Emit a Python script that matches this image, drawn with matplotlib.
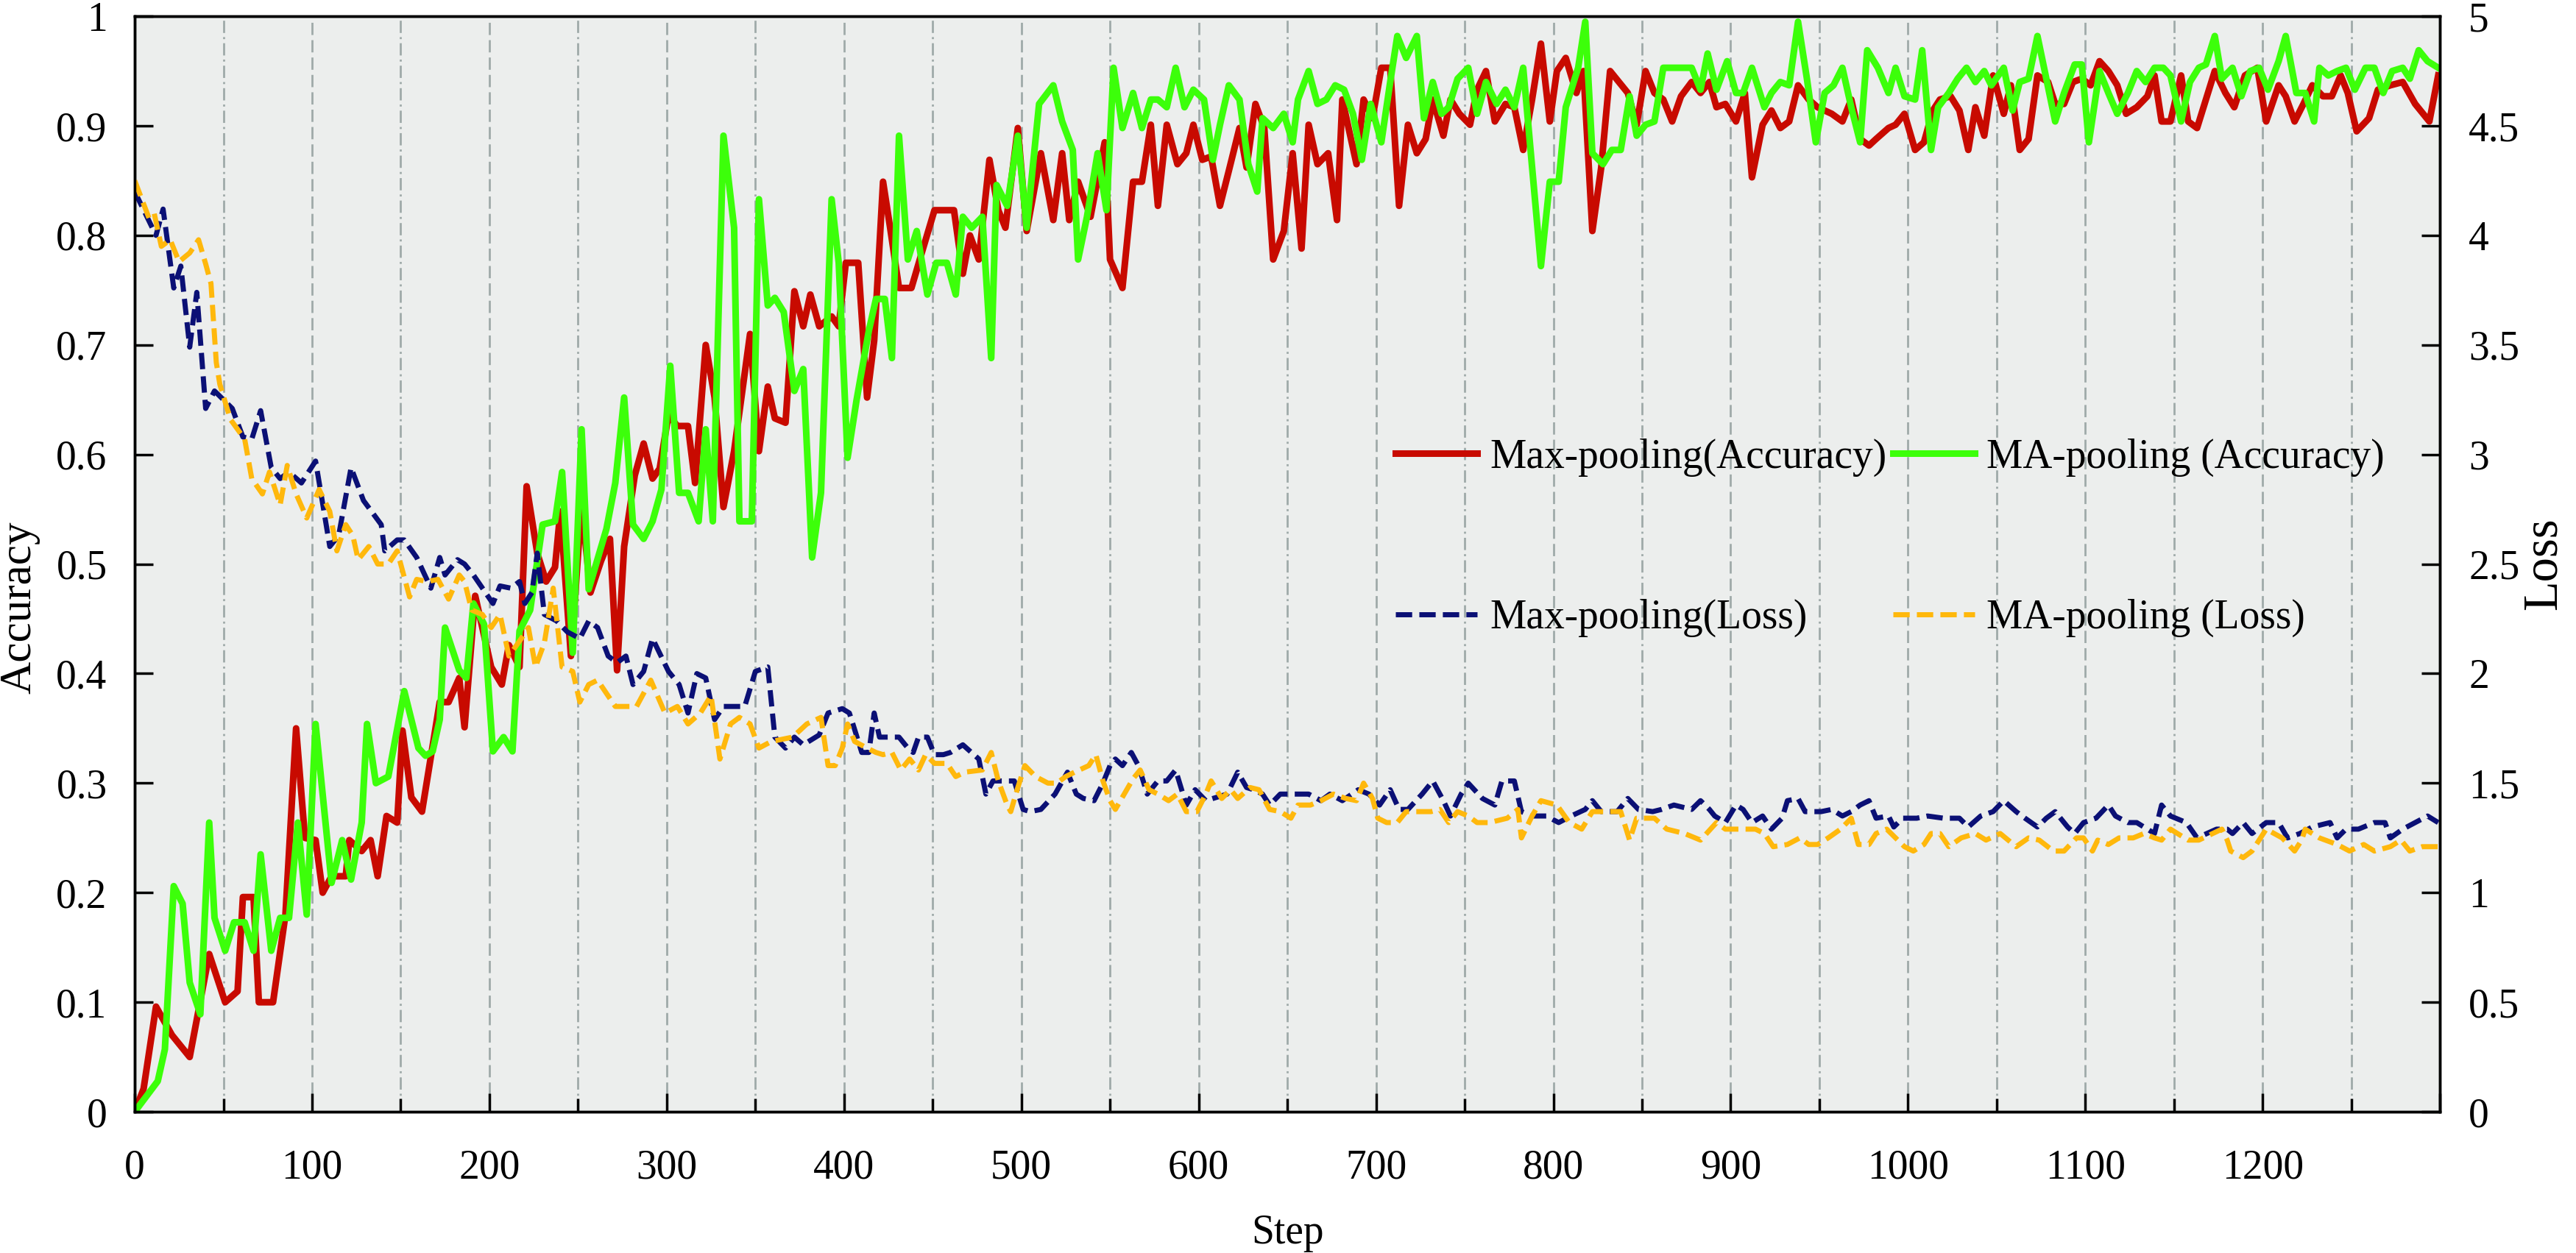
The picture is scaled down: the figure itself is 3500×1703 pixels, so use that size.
import matplotlib
matplotlib.use('Agg')
import matplotlib.pyplot as plt
from matplotlib.ticker import FixedLocator, FuncFormatter

plt.rcParams['font.family'] = ['Liberation Serif', 'DejaVu Serif']

# Max-pooling accuracy (step, value)
max_acc_steps = [0, 5, 12, 21, 31, 42, 51, 58, 61, 67, 70, 78, 85, 91, 96, 102, 106, 111, 119, 121,
                 128, 133, 137, 142, 148, 151, 156, 162, 172, 177, 183, 186, 192, 201, 207, 211, 217, 221, 227, 232,
                 237, 240, 246, 252, 257, 263, 268, 272, 276, 282, 287, 292, 296, 301, 306, 312, 316, 322, 327, 332,
                 338, 347, 352, 357, 361, 367, 372, 377, 381, 386, 393, 397, 401, 408, 413, 417, 422, 426, 431, 438,
                 444, 451, 462, 467, 471, 476, 482, 487, 491, 498, 503, 511, 518, 523, 527, 532, 539, 547, 550, 557,
                 563, 568, 573, 577, 582, 588, 593, 597, 602, 607, 612, 617, 623, 627, 632, 637, 642, 648, 653, 658,
                 662, 667, 673, 678, 681, 689, 693, 698, 703, 708, 713, 718, 723, 728, 732, 738, 742, 747, 753, 757,
                 762, 767, 773, 778, 783, 788, 793, 798, 802, 807, 813, 817, 822, 827, 832, 842, 847, 852, 857, 862,
                 867, 872, 878, 883, 888, 892, 897, 903, 908, 912, 918, 923, 928, 933, 938, 944, 949, 957, 963, 968,
                 973, 978, 982, 989, 993, 998, 1004, 1009, 1014, 1018, 1024, 1029, 1034, 1038, 1043, 1048, 1054, 1058, 1063, 1068,
                 1073, 1079, 1083, 1088, 1093, 1098, 1103, 1108, 1113, 1118, 1123, 1129, 1135, 1139, 1143, 1148, 1154, 1158, 1163, 1168,
                 1173, 1179, 1184, 1190, 1197, 1202, 1209, 1213, 1218, 1223, 1228, 1234, 1239, 1244, 1248, 1253, 1260, 1265, 1272, 1279,
                 1286, 1294, 1299]
max_acc = [0.0, 0.021, 0.096, 0.07, 0.05, 0.144, 0.10, 0.11, 0.196, 0.196, 0.10, 0.10, 0.18, 0.35, 0.25, 0.248, 0.2, 0.215, 0.215, 0.248,
           0.238, 0.248, 0.215, 0.27, 0.264, 0.348, 0.287, 0.274, 0.374, 0.374, 0.396, 0.351, 0.471, 0.406, 0.39, 0.426, 0.406, 0.571, 0.51, 0.484,
           0.497, 0.548, 0.416, 0.555, 0.474, 0.503, 0.523, 0.403, 0.516, 0.581, 0.61, 0.578, 0.587, 0.636, 0.626, 0.626, 0.574, 0.7, 0.652, 0.552,
           0.603, 0.71, 0.603, 0.662, 0.633, 0.629, 0.749, 0.717, 0.746, 0.717, 0.726, 0.717, 0.775, 0.775, 0.652, 0.704, 0.849, 0.807, 0.752, 0.752,
           0.785, 0.823, 0.823, 0.765, 0.8, 0.778, 0.869, 0.823, 0.807, 0.898, 0.804, 0.875, 0.814, 0.875, 0.814, 0.849, 0.817, 0.885, 0.778, 0.752,
           0.849, 0.849, 0.901, 0.827, 0.901, 0.865, 0.875, 0.901, 0.869, 0.872, 0.827, 0.859, 0.898, 0.862, 0.92, 0.898, 0.778, 0.804, 0.875, 0.788,
           0.901, 0.865, 0.875, 0.814, 0.924, 0.865, 0.924, 0.907, 0.953, 0.953, 0.827, 0.901, 0.875, 0.888, 0.924, 0.891, 0.924, 0.911, 0.901, 0.933,
           0.95, 0.904, 0.92, 0.917, 0.878, 0.924, 0.975, 0.904, 0.95, 0.962, 0.93, 0.95, 0.804, 0.862, 0.95, 0.93, 0.901, 0.95, 0.93, 0.924,
           0.904, 0.927, 0.94, 0.93, 0.94, 0.917, 0.92, 0.904, 0.93, 0.853, 0.901, 0.914, 0.898, 0.904, 0.937, 0.924, 0.917, 0.911, 0.904, 0.924,
           0.888, 0.882, 0.888, 0.898, 0.901, 0.911, 0.878, 0.885, 0.914, 0.924, 0.927, 0.914, 0.878, 0.917, 0.891, 0.946, 0.911, 0.937, 0.878, 0.888,
           0.946, 0.94, 0.92, 0.92, 0.94, 0.943, 0.937, 0.959, 0.95, 0.937, 0.911, 0.917, 0.927, 0.946, 0.904, 0.904, 0.946, 0.904, 0.898, 0.924,
           0.95, 0.93, 0.917, 0.946, 0.953, 0.904, 0.937, 0.927, 0.904, 0.92, 0.937, 0.927, 0.927, 0.946, 0.93, 0.895, 0.907, 0.933, 0.937, 0.94,
           0.92, 0.904, 0.946]

# MA-pooling accuracy
ma_acc_steps = [0, 13, 17, 22, 27, 31, 37, 42, 45, 51, 56, 62, 67, 71, 77, 82, 87, 92, 97, 102,
                111, 117, 122, 128, 131, 136, 143, 152, 160, 164, 168, 172, 175, 183, 187, 191, 197, 202, 208, 213,
                217, 223, 230, 237, 241, 247, 252, 256, 266, 271, 276, 281, 287, 292, 297, 302, 307, 312, 318, 322,
                326, 332, 338, 341, 348, 352, 357, 361, 366, 372, 377, 382, 387, 393, 397, 402, 407, 414, 418, 423,
                427, 431, 436, 441, 447, 452, 458, 463, 467, 472, 478, 483, 486, 492, 498, 503, 510, 518, 523, 529,
                532, 537, 543, 548, 552, 557, 563, 568, 573, 577, 582, 587, 592, 597, 603, 608, 612, 617, 623, 628,
                633, 636, 642, 648, 653, 656, 662, 667, 672, 677, 682, 687, 692, 697, 703, 708, 712, 717, 723, 727,
                732, 737, 741, 746, 752, 757, 762, 768, 773, 778, 783, 793, 798, 803, 807, 814, 818, 822, 828, 833,
                838, 843, 847, 852, 857, 862, 868, 874, 878, 883, 887, 892, 898, 903, 907, 912, 919, 923, 928, 933,
                938, 943, 948, 953, 958, 963, 968, 973, 977, 983, 989, 993, 998, 1004, 1008, 1013, 1017, 1023, 1028, 1033,
                1038, 1043, 1047, 1054, 1059, 1063, 1068, 1073, 1078, 1083, 1088, 1094, 1098, 1102, 1108, 1113, 1118, 1124, 1129, 1134,
                1139, 1144, 1148, 1154, 1159, 1164, 1168, 1173, 1177, 1183, 1188, 1193, 1198, 1203, 1209, 1213, 1219, 1224, 1229, 1232,
                1237, 1242, 1247, 1252, 1258, 1263, 1268, 1273, 1279, 1283, 1288, 1293, 1299]
ma_acc = [0.0, 0.028, 0.057, 0.206, 0.19, 0.118, 0.089, 0.264, 0.177, 0.147, 0.173, 0.173, 0.147, 0.235, 0.147, 0.177, 0.177, 0.264, 0.18, 0.354,
          0.209, 0.248, 0.212, 0.264, 0.354, 0.3, 0.306, 0.384, 0.332, 0.325, 0.329, 0.358, 0.442, 0.403, 0.396, 0.464, 0.445, 0.329, 0.342, 0.329,
          0.439, 0.458, 0.536, 0.539, 0.584, 0.419, 0.623, 0.477, 0.532, 0.574, 0.652, 0.536, 0.523, 0.539, 0.568, 0.681, 0.565, 0.565, 0.539, 0.623,
          0.539, 0.891, 0.807, 0.539, 0.539, 0.833, 0.736, 0.743, 0.73, 0.658, 0.678, 0.506, 0.565, 0.833, 0.775, 0.597, 0.649, 0.713, 0.742, 0.742,
          0.688, 0.891, 0.778, 0.804, 0.746, 0.775, 0.775, 0.746, 0.817, 0.807, 0.817, 0.688, 0.846, 0.827, 0.891, 0.807, 0.92, 0.937, 0.904, 0.878,
          0.778, 0.817, 0.875, 0.823, 0.953, 0.898, 0.93, 0.898, 0.924, 0.924, 0.917, 0.953, 0.917, 0.933, 0.924, 0.869, 0.901, 0.937, 0.924, 0.865,
          0.84, 0.907, 0.898, 0.911, 0.885, 0.924, 0.95, 0.92, 0.924, 0.937, 0.933, 0.911, 0.869, 0.92, 0.885, 0.94, 0.982, 0.962, 0.982, 0.907,
          0.94, 0.911, 0.917, 0.943, 0.953, 0.911, 0.94, 0.92, 0.933, 0.917, 0.953, 0.772, 0.849, 0.849, 0.917, 0.953, 0.995, 0.875, 0.865, 0.878,
          0.878, 0.927, 0.891, 0.901, 0.904, 0.953, 0.953, 0.953, 0.953, 0.933, 0.966, 0.933, 0.959, 0.93, 0.93, 0.953, 0.917, 0.93, 0.94, 0.937,
          0.995, 0.943, 0.885, 0.93, 0.937, 0.953, 0.917, 0.885, 0.969, 0.953, 0.93, 0.953, 0.927, 0.924, 0.969, 0.878, 0.917, 0.93, 0.943, 0.953,
          0.94, 0.95, 0.937, 0.953, 0.914, 0.94, 0.943, 0.982, 0.943, 0.904, 0.93, 0.956, 0.956, 0.885, 0.95, 0.93, 0.911, 0.93, 0.95, 0.94,
          0.953, 0.953, 0.946, 0.904, 0.94, 0.953, 0.956, 0.982, 0.943, 0.953, 0.927, 0.95, 0.953, 0.933, 0.959, 0.982, 0.93, 0.93, 0.904, 0.953,
          0.946, 0.95, 0.953, 0.933, 0.953, 0.953, 0.93, 0.95, 0.953, 0.943, 0.969, 0.959, 0.953]

# Max-pooling loss
max_loss_steps = [0, 9, 12, 16, 20, 22, 26, 31, 35, 40, 45, 55, 61, 66, 71, 77, 82, 87, 94, 102,
                  110, 115, 122, 129, 139, 141, 148, 152, 159, 167, 172, 175, 182, 186, 191, 202, 206, 212, 217, 220,
                  224, 227, 231, 238, 244, 251, 256, 261, 267, 272, 277, 281, 287, 292, 301, 307, 312, 317, 322, 327,
                  332, 337, 344, 350, 357, 361, 367, 372, 377, 386, 391, 399, 403, 405, 410, 414, 417, 420, 425, 431,
                  436, 439, 442, 447, 451, 456, 460, 467, 476, 480, 484, 490, 496, 501, 505, 511, 519, 526, 531, 535,
                  541, 546, 550, 553, 557, 562, 566, 571, 577, 582, 587, 593, 598, 604, 608, 616, 622, 627, 631, 636,
                  640, 646, 656, 662, 669, 674, 681, 690, 696, 702, 708, 713, 718, 726, 732, 738, 742, 748, 752, 760,
                  767, 771, 778, 782, 788, 796, 803, 810, 818, 822, 827, 836, 842, 848, 856, 861, 868, 878, 883, 888,
                  891, 897, 903, 907, 912, 918, 923, 929, 932, 938, 942, 951, 957, 963, 968, 973, 978, 982, 989, 992,
                  997, 1005, 1011, 1020, 1029, 1034, 1041, 1048, 1054, 1061, 1066, 1073, 1078, 1083, 1090, 1094, 1099, 1106, 1113, 1117,
                  1124, 1129, 1139, 1143, 1148, 1157, 1163, 1174, 1180, 1183, 1189, 1194, 1202, 1209, 1214, 1221, 1228, 1238, 1242, 1247,
                  1254, 1263, 1269, 1272, 1279, 1286, 1293, 1299]
max_loss = [4.2, 4.05, 4.0, 4.12, 3.88, 3.76, 3.86, 3.49, 3.74, 3.21, 3.29, 3.21, 3.08, 3.07, 3.2, 2.94, 2.89, 2.92, 2.87, 2.97,
            2.58, 2.63, 2.94, 2.79, 2.68, 2.56, 2.61, 2.61, 2.53, 2.39, 2.53, 2.45, 2.52, 2.5, 2.45, 2.32, 2.4, 2.39, 2.42, 2.32,
            2.37, 2.55, 2.27, 2.24, 2.19, 2.16, 2.24, 2.21, 2.08, 2.05, 2.08, 1.95, 2.01, 2.16, 2.01, 1.95, 1.82, 2.0, 1.98, 1.79,
            1.85, 1.85, 1.85, 2.01, 2.03, 1.71, 1.66, 1.71, 1.675, 1.72, 1.82, 1.84, 1.82, 1.77, 1.64, 1.64, 1.82, 1.71, 1.71, 1.71,
            1.66, 1.64, 1.71, 1.71, 1.63, 1.63, 1.64, 1.675, 1.61, 1.45, 1.51, 1.51, 1.51, 1.38, 1.37, 1.38, 1.45, 1.55, 1.45, 1.43,
            1.42, 1.5, 1.58, 1.61, 1.58, 1.64, 1.58, 1.45, 1.51, 1.51, 1.56, 1.4, 1.47, 1.42, 1.43, 1.45, 1.55, 1.48, 1.47, 1.45,
            1.4, 1.45, 1.45, 1.45, 1.42, 1.45, 1.42, 1.47, 1.45, 1.4, 1.47, 1.38, 1.38, 1.45, 1.51, 1.42, 1.35, 1.45, 1.5, 1.43,
            1.4, 1.51, 1.51, 1.37, 1.35, 1.35, 1.32, 1.35, 1.38, 1.42, 1.37, 1.37, 1.43, 1.38, 1.37, 1.38, 1.4, 1.38, 1.42, 1.38,
            1.35, 1.32, 1.4, 1.38, 1.32, 1.35, 1.29, 1.34, 1.42, 1.43, 1.37, 1.37, 1.38, 1.35, 1.37, 1.4, 1.42, 1.34, 1.35, 1.3,
            1.34, 1.34, 1.35, 1.34, 1.34, 1.3, 1.35, 1.37, 1.42, 1.37, 1.34, 1.3, 1.34, 1.37, 1.3, 1.27, 1.32, 1.34, 1.4, 1.35,
            1.32, 1.32, 1.27, 1.4, 1.35, 1.32, 1.25, 1.29, 1.29, 1.27, 1.32, 1.27, 1.32, 1.32, 1.25, 1.27, 1.3, 1.32, 1.25, 1.29,
            1.29, 1.32, 1.32, 1.25, 1.29, 1.32, 1.35, 1.32]

# MA-pooling loss
ma_loss_steps = [0, 8, 11, 15, 20, 25, 31, 36, 40, 43, 46, 48, 54, 62, 66, 72, 76, 82, 86, 91,
                 97, 104, 110, 114, 119, 123, 126, 132, 137, 143, 148, 155, 159, 165, 171, 177, 183, 186, 190, 196,
                 201, 206, 211, 218, 222, 226, 231, 236, 241, 247, 251, 256, 261, 271, 283, 291, 299, 306, 312, 319,
                 325, 330, 336, 341, 347, 352, 359, 371, 379, 387, 391, 395, 399, 402, 406, 413, 418, 422, 427, 432,
                 437, 442, 446, 451, 458, 463, 468, 478, 483, 487, 492, 494, 498, 502, 508, 515, 520, 525, 530, 538,
                 542, 546, 550, 553, 558, 563, 567, 572, 577, 583, 588, 593, 599, 604, 607, 613, 618, 622, 629, 634,
                 640, 646, 652, 656, 663, 669, 676, 683, 689, 693, 698, 701, 706, 712, 717, 722, 731, 736, 741, 746,
                 752, 757, 764, 774, 780, 782, 788, 793, 802, 809, 816, 822, 832, 838, 843, 847, 857, 864, 874, 883,
                 892, 897, 907, 914, 919, 924, 932, 939, 944, 949, 955, 962, 968, 972, 978, 982, 988, 993, 998, 1003,
                 1009, 1013, 1018, 1023, 1030, 1038, 1044, 1052, 1061, 1068, 1074, 1082, 1088, 1095, 1099, 1104, 1107, 1113, 1119, 1127,
                 1133, 1139, 1143, 1148, 1158, 1164, 1177, 1180, 1182, 1189, 1194, 1202, 1211, 1218, 1222, 1224, 1232, 1242, 1249, 1257,
                 1263, 1272, 1278, 1283, 1290, 1299]
ma_loss = [4.25, 4.08, 4.1, 3.95, 3.98, 3.88, 3.92, 3.98, 3.87, 3.78, 3.42, 3.32, 3.16, 3.07, 2.89, 2.82, 2.92, 2.77, 2.95, 2.82,
           2.71, 2.84, 2.74, 2.56, 2.68, 2.63, 2.52, 2.58, 2.5, 2.5, 2.56, 2.35, 2.43, 2.42, 2.43, 2.34, 2.45, 2.42, 2.29, 2.27,
           2.21, 2.27, 2.08, 2.16, 2.21, 2.03, 2.14, 2.39, 2.03, 2.01, 1.87, 1.95, 1.97, 1.85, 1.85, 1.97, 1.82, 1.85, 1.77, 1.82,
           1.9, 1.61, 1.77, 1.8, 1.77, 1.66, 1.69, 1.71, 1.77, 1.8, 1.58, 1.58, 1.66, 1.77, 1.69, 1.66, 1.64, 1.63, 1.64, 1.56,
           1.61, 1.56, 1.63, 1.59, 1.59, 1.53, 1.55, 1.56, 1.64, 1.51, 1.4, 1.37, 1.48, 1.58, 1.53, 1.5, 1.5, 1.53, 1.55, 1.58,
           1.63, 1.51, 1.42, 1.38, 1.45, 1.52, 1.56, 1.47, 1.45, 1.42, 1.45, 1.37, 1.37, 1.45, 1.51, 1.43, 1.47, 1.43, 1.48, 1.47,
           1.38, 1.37, 1.34, 1.4, 1.4, 1.42, 1.45, 1.43, 1.42, 1.5, 1.43, 1.34, 1.32, 1.32, 1.37, 1.37, 1.37, 1.38, 1.32, 1.37,
           1.35, 1.32, 1.32, 1.34, 1.38, 1.25, 1.35, 1.42, 1.4, 1.32, 1.29, 1.37, 1.37, 1.37, 1.24, 1.34, 1.34, 1.29, 1.27, 1.24,
           1.32, 1.29, 1.29, 1.29, 1.27, 1.21, 1.22, 1.25, 1.22, 1.22, 1.25, 1.29, 1.34, 1.22, 1.22, 1.27, 1.29, 1.25, 1.21, 1.19,
           1.22, 1.27, 1.27, 1.21, 1.25, 1.27, 1.24, 1.27, 1.21, 1.25, 1.24, 1.19, 1.19, 1.25, 1.25, 1.19, 1.24, 1.22, 1.25, 1.25,
           1.27, 1.25, 1.24, 1.29, 1.24, 1.24, 1.29, 1.24, 1.19, 1.16, 1.19, 1.29, 1.25, 1.19, 1.24, 1.29, 1.25, 1.22, 1.19, 1.22,
           1.19, 1.21, 1.24, 1.19, 1.21, 1.21]

x_ticks = list(range(0, 1301, 100))
x_minor = list(range(50, 1300, 100))

fig = plt.figure(figsize=(35, 17.03), dpi=100)
ax = fig.add_axes([0.0523, 0.1127, 0.8949, 0.8743])
ax.set_facecolor('#ECEEED')
ax2 = ax.twinx()

l1, = ax.plot(max_acc_steps, max_acc, color='#C80A00', lw=6.5, label='Max-pooling(Accuracy)')
l2, = ax.plot(ma_acc_steps, ma_acc, color='#3CFF0A', lw=6.5, label='MA-pooling (Accuracy)')
l3, = ax2.plot(max_loss_steps, max_loss, color='#0B1075', lw=5, ls=(0, (3.2, 1.4)),
               label='Max-pooling(Loss)')
l4, = ax2.plot(ma_loss_steps, ma_loss, color='#FFB80C', lw=5, ls=(0, (3.2, 1.4)),
               label='MA-pooling (Loss)')

ax.set_xlim(0, 1300)
ax.set_ylim(0, 1)
ax2.set_ylim(0, 5)

ax.set_xticks(x_ticks)
ax.set_xticklabels([str(t) if t < 1300 else '' for t in x_ticks])
ax.xaxis.set_minor_locator(FixedLocator(x_minor))
ax.set_yticks([i / 10 for i in range(11)])
ax2.set_yticks([i / 2 for i in range(11)])
fmt = FuncFormatter(lambda v, p: '%g' % v)
ax.yaxis.set_major_formatter(fmt)
ax2.yaxis.set_major_formatter(fmt)

ax.tick_params(axis='x', which='major', direction='in', length=18, width=2.5, pad=36, labelsize=40)
ax.tick_params(axis='x', which='minor', direction='in', length=13, width=2.5)
ax.tick_params(axis='y', direction='in', length=18, width=2.5, pad=27, labelsize=40)
ax2.tick_params(axis='y', direction='in', length=18, width=2.5, pad=28, labelsize=40)

ax.grid(axis='x', which='major', color='#9FAAA9', lw=2, ls=(0, (6, 2.5)))
ax.grid(axis='x', which='minor', color='#9FAAA9', lw=2, ls=(0, (6, 2, 1, 2)))
ax.set_axisbelow(True)

for a in (ax, ax2):
    for s in a.spines.values():
        s.set_linewidth(2.5)
        s.set_color('black')

ax.set_xlabel('Step', fontsize=40)
ax.xaxis.set_label_coords(0.5, -0.093)
ax.set_ylabel('Accuracy', fontsize=44, va='center')
ax.yaxis.set_label_coords(-0.05, 0.46)
ax2.set_ylabel('Loss', fontsize=48, va='center', rotation=90)
ax2.yaxis.set_label_coords(1.045, 0.5)

ax2.legend([l1, l3, l2, l4], [l.get_label() for l in (l1, l3, l2, l4)],
           ncol=2, loc='upper left', bbox_to_anchor=(0.547, 0.615), frameon=False,
           fontsize=40, handlelength=2.0, handletextpad=0.3, columnspacing=0.15,
           labelspacing=3.0, borderpad=0, borderaxespad=0)

fig.savefig('out.png', dpi=100)
